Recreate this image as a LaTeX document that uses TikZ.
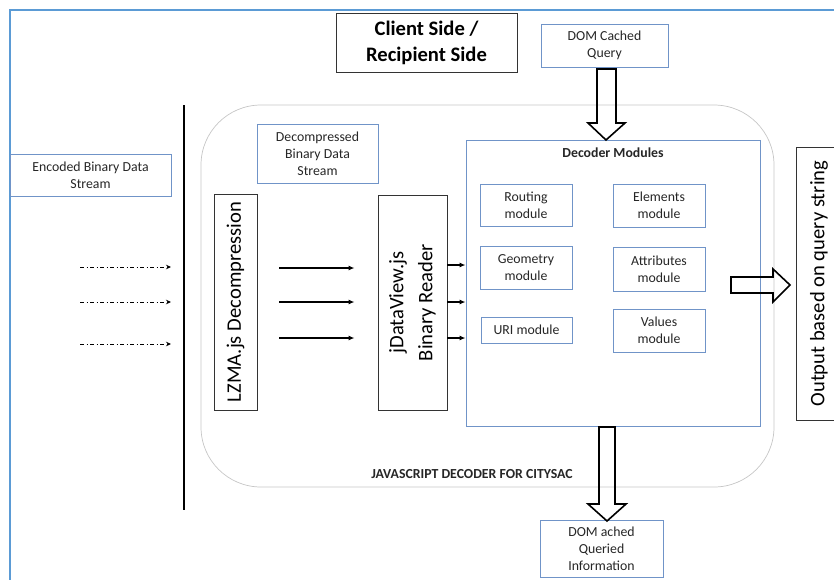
\documentclass[tikz,border=0pt]{standalone}
\usepackage{fontspec}
\setmainfont{Carlito}
\usetikzlibrary{arrows.meta,positioning,calc}
\definecolor{frameblue}{RGB}{91,155,213}
\definecolor{boxblue}{RGB}{112,148,200}

\tikzset{
	bluebox/.style = {draw=boxblue, line width=0.9pt, align=center, inner sep=2pt, text=black!85, font=\fontsize{13.8}{17}\selectfont},
	blackbox/.style = {draw=black!80, line width=0.9pt, align=center, inner sep=2pt},
	bigtext/.style = {font=\fontsize{20.6}{29}\selectfont},
	boldtext/.style = {font=\bfseries\fontsize{13.8}{16}\selectfont, text=black!85},
	hollow/.style = {draw=black, line width=1.6pt, line join=miter},
	feed/.style = {-{Latex[length=6pt,width=5pt]}, line width=1.4pt},
	dashfeed/.style = {-{Stealth[length=5pt,width=4.5pt]}, line width=0.8pt, dash pattern=on 4pt off 2.5pt on 1pt off 2.5pt},
}

\begin{document}
\begin{tikzpicture}[x=1pt, y=-1pt]
	\useasboundingbox (0,0) rectangle (834,579);
	% outer frame and divider
	\draw[frameblue, line width=2pt] (10,600) -- (10,10) -- (850,10);
	\draw[line width=1.8pt] (184,105) -- (184,510);
	% decoder container
	\node[draw=gray!45, line width=0.7pt, rounded corners=60pt, minimum width=573, minimum height=382] (jsdec) at (487.5,296) {};
	\node[boldtext] (jstitle) at (472,474) {JAVASCRIPT DECODER FOR CITYSAC};

	\node[blackbox, font=\bfseries\fontsize{20.6}{26}\selectfont, minimum width=181, minimum height=59] (client) at (426.5,42.5) {Client Side /\\Recipient Side};
	\node[bluebox, minimum width=127, minimum height=43] (dcq) at (604.5,45.5) {DOM Cached\\Query};
	\node[bluebox, minimum width=161, minimum height=42] (enc) at (90.5,175) {Encoded Binary Data\\Stream};
	\node[bluebox, minimum width=121, minimum height=59] (dbds) at (317.5,153.5) {Decompressed\\Binary Data\\Stream};

	% rotated boxes: south is their right side, north their left side
	\node[blackbox, bigtext, rotate=90, minimum width=216, minimum height=43] (lzma) at (235.5,302) {LZMA.js Decompression};
	\node[blackbox, bigtext, rotate=90, minimum width=215, minimum height=69] (reader) at (412.5,302.5) {jDataView.js\\Binary Reader};
	\node[blackbox, bigtext, rotate=90, minimum width=273, minimum height=46] (output) at (819,283.5) {Output based on query string};

	\node[bluebox, minimum width=294, minimum height=286] (decoder) at (613,283) {};
	\node[boldtext, below=5pt of decoder.north] (dmtitle) {Decoder Modules};
	\node[bluebox, minimum width=92, minimum height=42] (routing) at (526,205) {Routing\\module};
	\node[bluebox, minimum width=92, minimum height=43] (elements) at (659,205.5) {Elements\\module};
	\node[bluebox, minimum width=92, minimum height=43] (geometry) at (526,267.5) {Geometry\\module};
	\node[bluebox, minimum width=92, minimum height=44] (attributes) at (659,269) {Attributes\\module};
	\node[bluebox, minimum width=91, minimum height=26] (uri) at (526.5,330) {URI module};
	\node[bluebox, minimum width=92, minimum height=43] (values) at (659,330.5) {Values\\module};

	\node[bluebox, minimum width=123, minimum height=57] (queried) at (601.5,548.5) {DOM ached\\Queried\\Information};

	% incoming encoded stream
	\foreach \y in {267,302,344} {
		\coordinate (ds\y) at (80,\y);
		\coordinate (de\y) at (171,\y);
		\draw[dashfeed] (ds\y) -- (de\y);
	}
	\foreach \y in {268,302,338}
		\draw[feed, shorten <=22pt, shorten >=23pt] (lzma.south |- 0,\y) -- (reader.north |- 0,\y);
	\foreach \y in {265,302,338}
		\draw[feed] (reader.south |- 0,\y) -- (decoder.west |- 0,\y);

	% hollow block arrows
	\draw[hollow] (597,69) -- (597,123) -- (588,123) -- (606,140) -- (625,123) -- (616,123) -- (616,69) -- cycle;
	\draw[hollow] (731,277) -- (773,277) -- (773,269) -- (790,285) -- (773,302) -- (773,293) -- (731,293) -- cycle;
	\draw[hollow] (599,427) -- (599,504) -- (588,504) -- (607,521) -- (626,504) -- (615,504) -- (615,427) -- cycle;
\end{tikzpicture}
\end{document}
